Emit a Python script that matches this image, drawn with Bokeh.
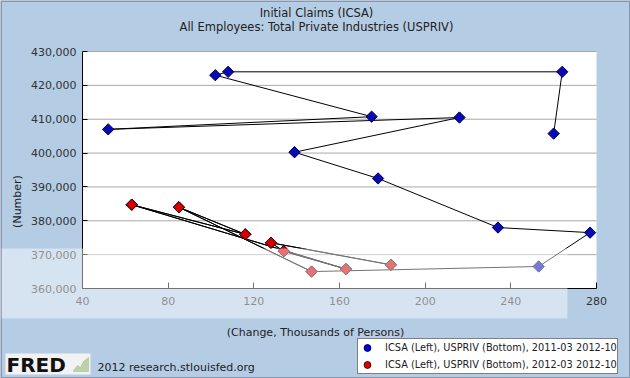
import numpy as np
from bokeh.plotting import figure
from bokeh.models import (Range1d, NumeralTickFormatter, FixedTicker, Label, BoxAnnotation,
                          Legend, LegendItem, PolyAnnotation)
from bokeh.embed import file_html
from bokeh.resources import INLINE

# ---- data ----
months = ["2011-03", "2011-04", "2011-05", "2011-06", "2011-07", "2011-08", "2011-09",
          "2011-10", "2011-11", "2011-12", "2012-01", "2012-02", "2012-03", "2012-04",
          "2012-05", "2012-06", "2012-07", "2012-08", "2012-09", "2012-10"]
usppriv_change = [260, 264, 108, 102, 175, 52, 216, 139, 178, 234, 277, 253,
                  147, 85, 116, 63, 163, 134, 128, 184]
icsa = [405750, 424000, 424000, 423000, 410750, 407000, 410500, 400250, 392500, 378000,
        376500, 366500, 365000, 384000, 376000, 384750, 365750, 371000, 373500, 367000]

red_start = "2012-03"
x_ticks = [40, 80, 120, 160, 200, 240, 280]
y_ticks = [360000, 370000, 380000, 390000, 400000, 410000, 420000, 430000]

title1 = "Initial Claims (ICSA)"
title2 = "All Employees: Total Private Industries (USPRIV)"
y_label = "(Number)"
x_label = "(Change, Thousands of Persons)"
legend_labels = ["ICSA (Left), USPRIV (Bottom), 2011-03 2012-10",
                 "ICSA (Left), USPRIV (Bottom), 2012-03 2012-10"]

red_idx = [i for i, m in enumerate(months) if m >= red_start]
x_red = [usppriv_change[i] for i in red_idx]
y_red = [icsa[i] for i in red_idx]

FONT = "DejaVu Sans"
BG = "#B4CCE4"
W, H = 630, 378
# plot-area box inside the canvas (pixels from top-left)
PL, PR, PT, PB = 82, 596, 51, 288

xmin, xmax = x_ticks[0], x_ticks[-1]
ymin, ymax = y_ticks[0], y_ticks[-1]
kx = (PR - PL) / (xmax - xmin)
ky = (PB - PT) / (ymax - ymin)
xr = Range1d(xmin - PL / kx, xmin + (W - PL) / kx)
yr = Range1d(ymin - (H - PB) / ky, ymin + PB / ky)

p = figure(width=W, height=H, output_backend="svg", toolbar_location=None,
           x_range=xr, y_range=yr, min_border=0)
p.title.visible = False
p.border_fill_color = BG
p.background_fill_color = BG
p.outline_line_color = None
p.xgrid.visible = False
p.ygrid.visible = False

# white plot area
p.add_layout(BoxAnnotation(left=xmin, right=xmax, bottom=ymin, top=ymax,
                           fill_color="white", fill_alpha=1, line_color=None, level="underlay"))
# horizontal grid lines at the y ticks
p.segment(x0=[xmin] * len(y_ticks), x1=[xmax] * len(y_ticks), y0=y_ticks, y1=y_ticks,
          line_color="#a8a8a8", line_width=1)

for ax in (p.xaxis[0], p.yaxis[0]):
    ax.axis_line_color = "black"
    ax.major_tick_line_color = "black"
    ax.minor_tick_line_color = None
    ax.major_tick_out = 0
    ax.major_label_text_font = FONT
    ax.major_label_text_font_size = "11px"
    ax.major_label_text_color = "#333333"
p.xaxis.fixed_location = ymin
p.yaxis.fixed_location = xmin
p.xaxis.bounds = (xmin, xmax)
p.yaxis.bounds = (ymin, ymax)
p.xaxis.major_tick_in = 6
p.yaxis.major_tick_in = 5
p.xaxis.ticker = FixedTicker(ticks=x_ticks)
p.yaxis.ticker = FixedTicker(ticks=y_ticks)
p.yaxis.formatter = NumeralTickFormatter(format="0,0")
p.xaxis.major_label_standoff = 8
p.yaxis.major_label_standoff = 6

# series
p.line(usppriv_change, icsa, line_color="black", line_width=1)
p.scatter(usppriv_change, icsa, marker="square", angle=np.pi / 4, size=8,
          fill_color="#0a0ab4", line_color="#00004a", line_width=1)
p.line(x_red, y_red, line_color="black", line_width=1)
p.scatter(x_red, y_red, marker="square", angle=np.pi / 4, size=8,
          fill_color="#d20000", line_color="#4a0000", line_width=1)

# legend (dummy renderers only for the legend glyphs)
lb = p.scatter([np.nan], [np.nan], marker="circle", size=11, fill_color="#0000e0", line_color="#00004a")
lr = p.scatter([np.nan], [np.nan], marker="circle", size=11, fill_color="#e00000", line_color="#4a0000")


def sx(cx):
    return cx


def sy(cy):
    return H - cy


legend = Legend(items=[LegendItem(label=legend_labels[0], renderers=[lb]),
                       LegendItem(label=legend_labels[1], renderers=[lr])],
                location=(sx(357), sy(374)), orientation="vertical",
                border_line_color="black", border_line_width=1,
                background_fill_color="white", background_fill_alpha=1,
                label_text_font=FONT, label_text_font_size="9.8px", label_text_color="#222222",
                glyph_width=18, glyph_height=17, label_height=14, spacing=0,
                padding=0, margin=0, label_standoff=9)
p.add_layout(legend)

# titles & axis labels
p.add_layout(Label(x=sx(316), y=sy(12), x_units="screen", y_units="screen", text=title1,
                   text_font=FONT, text_font_size="11.5px", text_color="#222222",
                   text_align="center", text_baseline="middle"))
p.add_layout(Label(x=sx(316), y=sy(26), x_units="screen", y_units="screen", text=title2,
                   text_font=FONT, text_font_size="11.5px", text_color="#222222",
                   text_align="center", text_baseline="middle"))
p.add_layout(Label(x=sx(17), y=sy(201), x_units="screen", y_units="screen", text=y_label,
                   angle=np.pi / 2, text_font=FONT, text_font_size="11px", text_color="#222222",
                   text_align="center", text_baseline="middle"))
p.add_layout(Label(x=sx(315), y=sy(332), x_units="screen", y_units="screen", text=x_label,
                   text_font=FONT, text_font_size="11px", text_color="#222222",
                   text_align="center", text_baseline="middle"))

# FRED footer
p.add_layout(BoxAnnotation(left=sx(5), right=sx(90), top=sy(353), bottom=sy(374),
                           left_units="screen", right_units="screen", top_units="screen",
                           bottom_units="screen", fill_color="#f2f2f2", fill_alpha=1,
                           line_color=None))
p.add_layout(PolyAnnotation(xs=[sx(73), sx(77), sx(80), sx(83), sx(88), sx(88), sx(73)],
                            ys=[sy(370), sy(365), sy(367), sy(361), sy(357), sy(371), sy(371)],
                            xs_units="screen", ys_units="screen",
                            fill_color="#b9d3a6", fill_alpha=1, line_color="#7f9f70", line_width=1))
p.add_layout(Label(x=sx(6), y=sy(364), x_units="screen", y_units="screen", text="FRED",
                   text_font=FONT, text_font_size="20px", text_font_style="bold",
                   text_color="#111111", text_align="left", text_baseline="middle"))
p.add_layout(Label(x=sx(97), y=sy(367), x_units="screen", y_units="screen",
                   text="2012 research.stlouisfed.org",
                   text_font=FONT, text_font_size="11px", text_color="#222222",
                   text_align="left", text_baseline="middle"))

# faint photo watermark band
p.add_layout(BoxAnnotation(left=sx(0), right=sx(567), top=sy(248), bottom=sy(318),
                           left_units="screen", right_units="screen", top_units="screen",
                           bottom_units="screen", fill_color="white", fill_alpha=0.45,
                           line_color=None))
# outer dark border
p.add_layout(BoxAnnotation(left=sx(0), right=sx(W), top=sy(0), bottom=sy(H),
                           left_units="screen", right_units="screen", top_units="screen",
                           bottom_units="screen", fill_color=None, fill_alpha=0,
                           line_color="#1b1f3a", line_width=3))

open("out.html", "w").write(file_html(p, INLINE))
